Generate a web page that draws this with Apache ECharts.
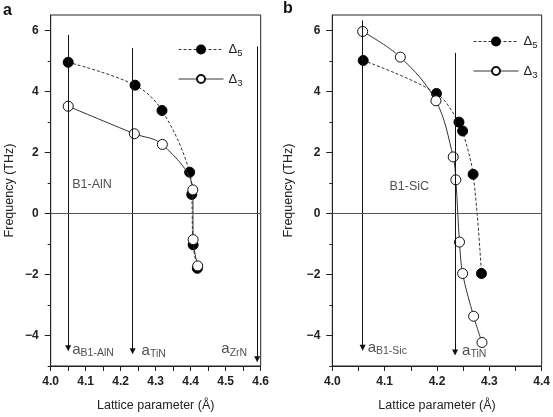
<!DOCTYPE html>
<html>
<head>
<meta charset="utf-8">
<script src="https://cdn.jsdelivr.net/npm/echarts@6/dist/echarts.min.js"></script>
<style>
html,body{margin:0;padding:0;background:#fff;}
#chart{width:553px;height:417px;}
</style>
</head>
<body>
<div id="chart"></div>
<script>
// ---- Panel a (B1-AlN) ----
const aD5X = [4.05, 4.241, 4.318, 4.397, 4.403, 4.407, 4.419];
const aD5Y = [4.95, 4.20, 3.37, 1.35, 0.62, -1.03, -1.80];
const aD3X = [4.05, 4.239, 4.319, 4.406, 4.407, 4.42];
const aD3Y = [3.51, 2.61, 2.26, 0.77, -0.86, -1.72];
const aRefX = [4.05, 4.234, 4.59];
const aRefTop = [5.85, 5.42, 5.47];
const aRefBottom = [-4.42, -4.52, -4.78];
const aRefNames = ['B1-AlN', 'TiN', 'ZrN'];
// ---- Panel b (B1-SiC) ----
const bD5X = [4.059, 4.199, 4.242, 4.249, 4.269, 4.285];
const bD5Y = [5.01, 3.93, 2.99, 2.70, 1.28, -1.97];
const bD3X = [4.058, 4.13, 4.198, 4.231, 4.236, 4.243, 4.249, 4.27, 4.286];
const bD3Y = [5.96, 5.12, 3.69, 1.85, 1.10, -0.94, -1.97, -3.37, -4.23];
const bRefX = [4.058, 4.2345];
const bRefTop = [6.32, 5.26];
const bRefBottom = [-4.40, -4.56];
const bRefNames = ['B1-Sic', 'TiN'];
// ---- axes ----
const yLabelTicks = [-4, -2, 0, 2, 4, 6];
const yMinorTicks = [-5, -3, -1, 1, 3, 5];
const seriesNames = ['Δ5', 'Δ3'];

const FONT = "'Liberation Sans', Arial, Helvetica, sans-serif";
const INK = '#222';

const chart = echarts.init(document.getElementById('chart'), null, {renderer: 'canvas'});

function zip(xs, ys) { return xs.map((x, i) => [x, ys[i]]); }
function minus(v) { return v < 0 ? '\u2212' + Math.abs(v) : String(v); }

function xAxisFor(gi, min, max) {
  return {
    gridIndex: gi, type: 'value', min: min, max: max, interval: 0.1,
    axisLine: {show: true, onZero: false, lineStyle: {color: INK, width: 1}},
    axisTick: {show: true, length: 5, lineStyle: {color: INK}},
    minorTick: {show: true, splitNumber: 2, length: 5, lineStyle: {color: INK}},
    splitLine: {show: false}, minorSplitLine: {show: false},
    axisLabel: {formatter: v => v.toFixed(1), fontFamily: FONT, fontWeight: 'bold', fontSize: 12, color: INK, margin: 10},
    name: 'Lattice parameter (Å)', nameLocation: 'middle', nameGap: 33,
    nameTextStyle: {fontFamily: FONT, fontSize: 12.5, color: INK}
  };
}
function yAxisFor(gi, nameGap) {
  return {
    gridIndex: gi, type: 'value', min: -5, max: 6.5,
    axisLine: {show: true, onZero: false, lineStyle: {color: INK, width: 1}},
    axisTick: {show: true, length: 6, customValues: yLabelTicks, lineStyle: {color: INK}},
    splitLine: {show: false},
    axisLabel: {customValues: yLabelTicks, formatter: minus, fontFamily: FONT, fontWeight: 'bold', fontSize: 12, color: INK, margin: 12},
    name: 'Frequency (THz)', nameLocation: 'middle', nameGap: nameGap,
    nameTextStyle: {fontFamily: FONT, fontSize: 12.5, color: INK}
  };
}
function yMinorAxisFor(gi) {
  return {
    gridIndex: gi, type: 'value', min: -5, max: 6.5, position: 'left',
    axisLine: {show: false},
    axisTick: {show: true, length: 3, customValues: yMinorTicks, lineStyle: {color: INK}},
    axisLabel: {show: false}, splitLine: {show: false}
  };
}

function legendFor(left, top) {
  return {
    orient: 'vertical', left: left, top: top, itemWidth: 45, itemHeight: 10, itemGap: 14,
    data: seriesNames,
    formatter: n => '{d|Δ}{s|' + n.slice(1) + '}',
    lineStyle: {width: 1},
    textStyle: {
      fontFamily: FONT, color: INK,
      rich: {
        d: {fontFamily: FONT, fontSize: 13, color: INK},
        s: {fontFamily: FONT, fontSize: 9.5, color: INK, padding: [8, 0, 0, 0]}
      }
    },
    selectedMode: false
  };
}

function curveSeries(gi, name, xs, ys, filled, extra) {
  return Object.assign({
    type: 'line', name: name, xAxisIndex: gi, yAxisIndex: gi * 2,
    data: zip(xs, ys), smooth: 0.35,
    symbol: 'circle', symbolSize: 10, showSymbol: true,
    lineStyle: filled ? {color: '#333', width: 1, type: [3, 2]} : {color: '#333', width: 1, type: 'solid'},
    itemStyle: filled ? {color: '#000', borderColor: '#000', borderWidth: 1} : {color: '#fff', borderColor: '#111', borderWidth: 1},
    z: filled ? 3 : 4, animation: false, silent: true
  }, extra || {});
}

function annotSeries(gi, refX, refTop, refBottom, names, labelSpec, xMin, xMax, panelText) {
  const data = refX.map((x, i) => ({
    value: [x, labelSpec[i].y],
    label: {
      show: true, position: [labelSpec[i].dx, 0], align: labelSpec[i].align, verticalAlign: 'middle',
      formatter: '{a|a}{s|' + names[i] + '}'
    }
  }));
  data.push({
    value: panelText.pos,
    label: {show: true, position: [0, 0], align: 'center', verticalAlign: 'middle', formatter: '{t|' + panelText.text + '}'}
  });
  return {
    type: 'scatter', xAxisIndex: gi, yAxisIndex: gi * 2, symbol: 'circle', symbolSize: 0,
    data: data, animation: false, silent: true, z: 2,
    label: {
      rich: {
        a: {fontFamily: FONT, fontSize: 15, color: INK},
        s: {fontFamily: FONT, fontSize: 10.5, color: INK, padding: [7, 0, 0, 0]},
        t: {fontFamily: FONT, fontSize: 12.5, color: INK}
      }
    },
    markLine: {
      silent: true, animation: false, symbol: ['none', 'triangle'], symbolSize: 6,
      lineStyle: {color: '#111', width: 1, type: 'solid'},
      label: {show: false},
      data: refX.map((x, i) => [{coord: [x, refTop[i]]}, {coord: [x, refBottom[i]]}]).concat([
        [{coord: [xMin, 0], symbol: 'none'}, {coord: [xMax, 0], symbol: 'none', lineStyle: {color: '#555', width: 1}}]
      ])
    }
  };
}

const option = {
  backgroundColor: '#fff',
  animation: false,
  textStyle: {fontFamily: FONT},
  grid: [
    {left: 50.7, top: 15, width: 210, height: 354.3, show: true, borderColor: INK, borderWidth: 1, backgroundColor: 'transparent'},
    {left: 332.3, top: 15, width: 211, height: 354.3, show: true, borderColor: INK, borderWidth: 1, backgroundColor: 'transparent'}
  ],
  xAxis: [xAxisFor(0, 4.0, 4.6), xAxisFor(1, 4.0, 4.4)],
  yAxis: [yAxisFor(0, 35), yMinorAxisFor(0), yAxisFor(1, 37), yMinorAxisFor(1)],
  legend: [legendFor(173, 38), legendFor(468, 30)],
  graphic: [
    {type: 'text', left: 3, top: 3, style: {text: 'a', font: 'bold 16px ' + FONT, fill: '#111'}},
    {type: 'text', left: 283, top: 1, style: {text: 'b', font: 'bold 16px ' + FONT, fill: '#111'}}
  ],
  series: [
    annotSeries(0, aRefX, aRefTop, aRefBottom, aRefNames,
      [{y: -4.47, dx: 4, align: 'left'}, {y: -4.5, dx: 9, align: 'left'}, {y: -4.45, dx: -10, align: 'right'}],
      4.0, 4.6, {text: 'B1-AlN', pos: [4.118, 0.93]}),
    curveSeries(0, 'Δ5', aD5X, aD5Y, true),
    curveSeries(0, 'Δ3', aD3X, aD3Y, false),
    annotSeries(1, bRefX, bRefTop, bRefBottom, bRefNames,
      [{y: -4.4, dx: 5, align: 'left'}, {y: -4.5, dx: 7, align: 'left'}],
      4.0, 4.4, {text: 'B1-SiC', pos: [4.147, 0.89]}),
    curveSeries(1, 'Δ5', bD5X, bD5Y, true, {xAxisIndex: 1, yAxisIndex: 2}),
    curveSeries(1, 'Δ3', bD3X, bD3Y, false, {xAxisIndex: 1, yAxisIndex: 2})
  ]
};
chart.setOption(option);
</script>
</body>
</html>
